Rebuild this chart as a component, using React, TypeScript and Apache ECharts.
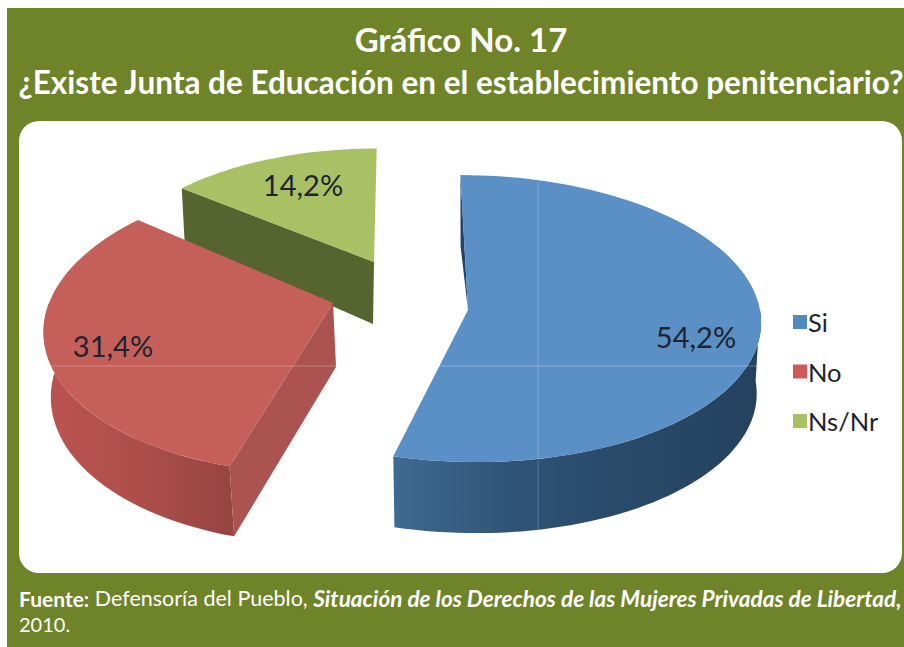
import React, { useEffect, useRef } from "react";
import * as echarts from "echarts";

const categories = ["Si", "No", "Ns/Nr"];
const values = [54.2, 31.4, 14.2];
const titleLines = ["Gráfico No. 17", "¿Existe Junta de Educación en el establecimiento penitenciario?"];

const topColors = ["#5a90c6", "#c55f5a", "#a9c164"];
const legendColors = ["#4f89c0", "#d0575a", "#a8bf62"];

const OLIVE = "#6f8329";
const FONT = "Lato, 'Open Sans', sans-serif";

// perspective projection parameters of each exploded slice
const geometry = [
  { ax: 468, ay: 310, rx: 292, ry: 143, k: 0.06, s: 8, bax: 468, bay: 381, bx: 0.985, by: 1.0, lx: 696, ly: 336 },
  { ax: 333, ay: 303, rx: 284, ry: 145, k: 0.15, s: -13, bax: 336, bay: 367, bx: 0.985, by: 1.037, lx: 113, ly: 345 },
  { ax: 374, ay: 262, rx: 266, ry: 126, k: 0.11, s: -3, bax: 373, bay: 324, bx: 0.98, by: 1.12, lx: 303, ly: 184 },
];

const total = values.reduce((a, b) => a + b, 0);
const startAngle = (i: number) => (values.slice(0, i).reduce((a, b) => a + b, 0) / total) * 360;
const endAngle = (i: number) => startAngle(i + 1);

function offset(g: any, deg: number) {
  const t = (deg * Math.PI) / 180;
  const u = Math.sin(t);
  const v = -Math.cos(t);
  const d = 1 - g.k * v;
  return [(g.rx * u + g.s * v) / d, (g.ry * v) / d];
}
const topPt = (g: any, deg: number) => {
  const o = offset(g, deg);
  return [g.ax + o[0], g.ay + o[1]];
};
const lowPt = (g: any, deg: number) => {
  const o = offset(g, deg);
  return [g.bax + o[0] * g.bx, g.bay + o[1] * g.by];
};
function arc(from: number, to: number, f: (d: number) => number[]) {
  const n = Math.max(2, Math.ceil(Math.abs(to - from) / 2));
  const pts: number[][] = [];
  for (let i = 0; i <= n; i++) pts.push(f(from + ((to - from) * i) / n));
  return pts;
}
const hGrad = (stops: [number, string][]) =>
  new echarts.graphic.LinearGradient(0, 0, 1, 0, stops.map(([offset, color]) => ({ offset, color })));

function poly(points: number[][], fill: any) {
  return { type: "polygon", shape: { points }, style: { fill } };
}

function sliceChildren(i: number) {
  const g = geometry[i];
  const a0 = startAngle(i);
  const a1 = endAngle(i);
  const kids: any[] = [];
  if (i === 0) {
    kids.push(poly([topPt(g, a0), [g.ax, g.ay], lowPt(g, a0)], "#1f4467"));
    kids.push(
      poly(
        [...arc(90, a1, (d) => topPt(g, d)), ...arc(a1, 90, (d) => lowPt(g, d))],
        hGrad([
          [0, "#3f6a92"],
          [0.3, "#30557a"],
          [0.6, "#294a69"],
          [1, "#24425e"],
        ])
      )
    );
  }
  if (i === 1) {
    kids.push(
      poly(
        [...arc(a0, 270, (d) => topPt(g, d)), ...arc(270, a0, (d) => lowPt(g, d))],
        hGrad([
          [0, "#bb5450"],
          [0.5, "#ad4e4b"],
          [1, "#964442"],
        ])
      )
    );
    kids.push(poly([[g.ax, g.ay], topPt(g, a0), lowPt(g, a0), [g.bax, g.bay]], "#ab5350"));
  }
  if (i === 2) {
    kids.push(poly([topPt(g, a0), [g.ax, g.ay], [g.bax, g.bay], lowPt(g, a0)], "#56652f"));
  }
  kids.push(poly([[g.ax, g.ay], ...arc(a0, a1, (d) => topPt(g, d))], topColors[i]));
  kids.push({
    type: "text",
    z2: 20,
    style: {
      text: values[i].toFixed(1).replace(".", ",") + "%",
      x: g.lx,
      y: g.ly,
      align: "center",
      verticalAlign: "middle",
      fill: "#1d2430",
      font: `29px ${FONT}`,
    },
  });
  return kids;
}

export default function App() {
  const ref = useRef<HTMLDivElement>(null);
  useEffect(() => {
    document.body.style.margin = "0";
    document.body.style.background = "#fff";
    const chart = echarts.init(ref.current!, undefined, { renderer: "svg" });
    const order = [2, 1, 0];
    chart.setOption({
      animation: false,
      backgroundColor: "#ffffff",
      legend: {
        orient: "vertical",
        left: 788,
        top: 304,
        itemWidth: 14,
        itemHeight: 14,
        itemGap: 23.5,
        icon: "rect",
        data: categories,
        textStyle: { color: "#1d2430", fontSize: 25.5, fontFamily: FONT, padding: [0, 0, 0, -4] },
      },
      graphic: [
        { type: "rect", z: -10, silent: true, shape: { x: 7, y: 8, width: 897, height: 639 }, style: { fill: OLIVE } },
        { type: "rect", z: -9, silent: true, shape: { x: 19, y: 121, width: 883, height: 452, r: 20 }, style: { fill: "#fff" } },
        { type: "text", style: { text: titleLines[0], x: 461, y: 39, align: "center", verticalAlign: "middle", fill: "#fff", font: `bold 33px ${FONT}` } },
        { type: "text", style: { text: titleLines[1], x: 461, y: 82, align: "center", verticalAlign: "middle", fill: "#fff", font: `bold 31.5px ${FONT}` } },
        {
          type: "text",
          style: {
            text: "{b|Fuente:}{r| Defensoría del Pueblo, }{i|Situación de los Derechos de las Mujeres Privadas de Libertad,}",
            x: 19,
            y: 598,
            verticalAlign: "middle",
            rich: {
              b: { fill: "#fff", font: `bold 21px ${FONT}` },
              r: { fill: "#fff", font: `21.5px ${FONT}` },
              i: { fill: "#fff", font: `italic bold 22.6px ${FONT}` },
            },
          },
        },
        { type: "text", style: { text: "2010.", x: 19, y: 624, verticalAlign: "middle", fill: "#fff", font: `20px ${FONT}` } },
        { type: "line", z: 5, silent: true, shape: { x1: 47, y1: 366, x2: 757, y2: 366 }, style: { stroke: "rgba(255,255,255,0.18)", lineWidth: 1.5 } },
        { type: "line", z: 5, silent: true, shape: { x1: 538, y1: 182, x2: 538, y2: 533 }, style: { stroke: "rgba(255,255,255,0.14)", lineWidth: 1.5 } },
      ],
      series: order.map((i) => ({
        type: "custom",
        name: categories[i],
        coordinateSystem: "none",
        itemStyle: { color: legendColors[i] },
        data: [{ name: categories[i], value: values[i] }],
        renderItem: () => ({ type: "group", children: sliceChildren(i) }),
      })),
    });
    return () => chart.dispose();
  }, []);
  return <div ref={ref} style={{ position: "absolute", left: 0, top: 0, width: 904, height: 647 }} />;
}
